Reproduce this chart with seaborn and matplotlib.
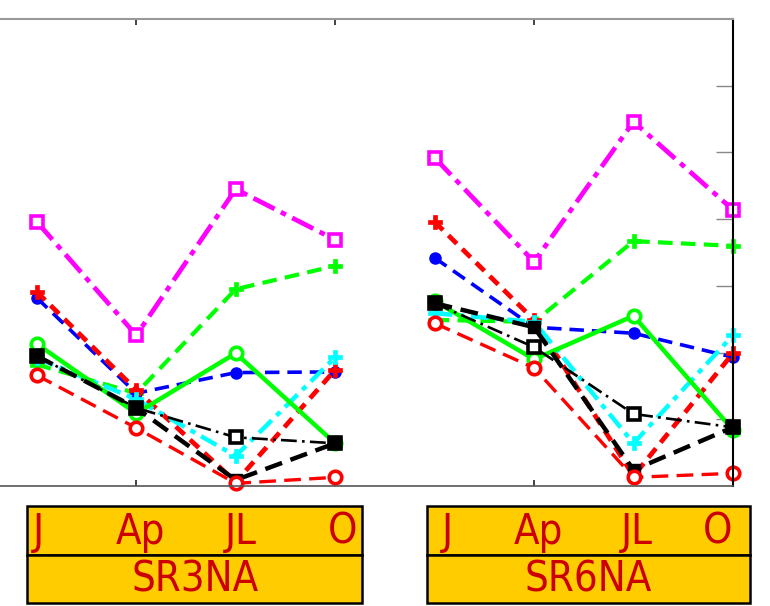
import matplotlib
matplotlib.use("Agg")
import matplotlib.pyplot as plt
import seaborn as sns
import pandas as pd
from matplotlib.patches import Rectangle
from matplotlib import font_manager

sns.set_style("white")

months = ["J", "Ap", "JL", "O"]
groups = ["SR3NA", "SR6NA"]
x_pos = [1, 2, 3, 4, 5, 6, 7, 8]

magenta_sq = [3.96, 2.26, 4.45, 3.69, 4.92, 3.36, 5.46, 4.14]
red_plus = [2.91, 1.44, 0.06, 1.74, 3.96, 2.49, 0.15, 1.99]
blue_star = [2.82, 1.39, 1.70, 1.71, 3.42, 2.38, 2.29, 1.93]
green_plus = [1.82, 1.39, 2.95, 3.30, 2.49, 2.46, 3.67, 3.60]
green_circle = [2.13, 1.09, 1.99, 0.64, 2.77, 1.90, 2.55, 0.84]
cyan_plus = [1.92, 1.30, 0.45, 1.93, 2.59, 2.46, 0.64, 2.26]
black_sq = [1.95, 1.17, 0.73, 0.64, 2.74, 2.08, 1.08, 0.88]
black_dash = [1.95, 1.17, 0.09, 0.64, 2.74, 2.38, 0.24, 0.88]
red_circle = [1.66, 0.87, 0.04, 0.13, 2.44, 1.77, 0.13, 0.19]

series = [
    (magenta_sq, dict(color="#FF00FF", marker="s", lw=3.4, dashes=(5, 1.5, 1.2, 1.5), ms=9, mew=2.6, mfc="white")),
    (green_plus, dict(color="#00FF00", marker="P", lw=3.0, dashes=(3.5, 2), ms=10, mew=0.5, mfc="#00FF00")),
    (blue_star, dict(color="#0000FF", marker="o", lw=2.6, dashes=(4, 2.2), ms=8, mew=1, mfc="#0000FF")),
    (red_plus, dict(color="#FF0000", marker="P", lw=3.4, dashes=(2.5, 1.6), ms=10, mew=0.5, mfc="#FF0000")),
    (cyan_plus, dict(color="#00FFFF", marker="P", lw=3.2, dashes=(4, 1.5, 1.2, 1.5), ms=10, mew=0.5, mfc="#00FFFF")),
    (green_circle, dict(color="#00FF00", marker="o", lw=3.2, linestyle="-", ms=9, mew=2.6, mfc="white")),
    (black_sq, dict(color="#000000", marker="s", lw=1.9, dashes=(6, 2, 1, 2), ms=9, mew=2.6, mfc="white")),
    (black_dash, dict(color="#000000", marker="s", lw=3.2, dashes=(4, 2), ms=8, mew=1, mfc="#000000")),
    (red_circle, dict(color="#FF0000", marker="o", lw=2.4, dashes=(5, 2.5), ms=9, mew=2.6, mfc="white")),
]

fig = plt.figure(figsize=(7.7, 6.06), dpi=100)
W, H = 770, 606
ax = fig.add_axes([0.0, 1 - 486 / H, 733 / W, (486 - 19) / H])

for vals, style in series:
    for g in range(2):
        df = pd.DataFrame({"x": x_pos[4 * g:4 * g + 4], "y": vals[4 * g:4 * g + 4]})
        kw = dict(style)
        dashes = kw.pop("dashes", None)
        line_kw = dict(color=kw["color"], marker=kw["marker"], linewidth=kw["lw"],
                       markersize=kw["ms"], markeredgewidth=kw["mew"],
                       markerfacecolor=kw["mfc"], markeredgecolor=kw["color"])
        sns.lineplot(data=df, x="x", y="y", ax=ax, legend=False, **line_kw)
        ln = ax.lines[-1]
        if dashes is not None:
            ln.set_dashes(dashes)
        else:
            ln.set_linestyle("-")
        ln.set_clip_on(False)

ax.set_xlim(0.63, 8)
ax.set_ylim(0, 7)
ax.set_xticks([2, 4, 6])
ax.set_yticks([1, 2, 3, 4, 5, 6])
ax.set_xticklabels([])
ax.set_yticklabels([])
ax.set_xlabel("")
ax.set_ylabel("")
ax.tick_params(axis="x", which="both", direction="in", top=True, bottom=True,
               length=4, width=1.2, color="#222222")
ax.tick_params(axis="y", which="both", direction="in", left=False, right=True,
               length=12, width=1, color="#888888")
ax.spines["left"].set_visible(False)
ax.spines["top"].set_color("#999999")
ax.spines["top"].set_linewidth(1.5)
ax.spines["bottom"].set_color("#555555")
ax.spines["bottom"].set_linewidth(1.2)
ax.spines["right"].set_color("#000000")
ax.spines["right"].set_linewidth(1.5)
ax.set_facecolor("white")

names = {f.name for f in font_manager.fontManager.ttflist}
if "Liberation Sans Narrow" in names:
    fprops = dict(family="Liberation Sans Narrow")
else:
    fprops = dict(family="DejaVu Sans", stretch="condensed")

boxes = [(27, 362, [38, 140, 241, 343], 195), (427, 750, [447, 538, 637, 718], 588)]
top, mid, bot = 506, 555, 603
for (x0, x1, mx, cx), gname in zip(boxes, groups):
    for (ya, yb) in [(top, mid), (mid, bot)]:
        r = Rectangle((x0 / W, 1 - yb / H), (x1 - x0) / W, (yb - ya) / H,
                      transform=fig.transFigure, facecolor="#FFCC00",
                      edgecolor="black", linewidth=1.8)
        fig.patches.append(r)
    for m, px in zip(months, mx):
        fig.text(px / W, 1 - 532 / H, m, ha="center", va="center",
                 color="#CC0000", fontsize=30, **fprops)
    fig.text(cx / W, 1 - 580 / H, gname, ha="center", va="center",
             color="#CC0000", fontsize=30, **fprops)

fig.savefig("out.png", dpi=100, facecolor="white")
